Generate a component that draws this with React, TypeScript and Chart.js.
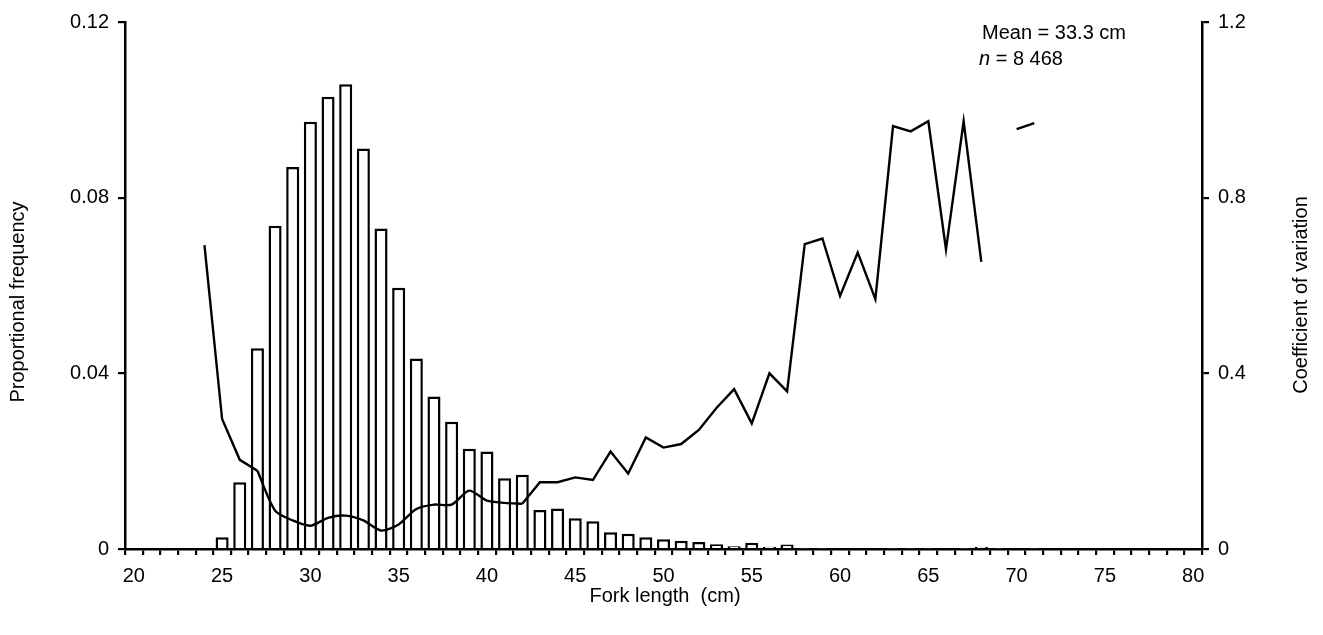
import React, { useEffect, useRef } from "react";
import { Chart, registerables } from "chart.js";

Chart.register(...registerables);

const forkLengths: number[] = [
  20, 21, 22, 23, 24, 25, 26, 27, 28, 29, 30, 31, 32, 33, 34, 35, 36, 37, 38, 39, 40,
  41, 42, 43, 44, 45, 46, 47, 48, 49, 50, 51, 52, 53, 54, 55, 56, 57, 58, 59, 60,
  61, 62, 63, 64, 65, 66, 67, 68, 69, 70, 71, 72, 73, 74, 75, 76, 77, 78, 79, 80,
];

const proportionalFrequency: (number | null)[] = [
  null, null, null, null, 0.0002, 0.0027, 0.0152, 0.0457, 0.0736, 0.087, 0.0973,
  0.103, 0.1058, 0.0912, 0.073, 0.0595, 0.0434, 0.0347, 0.029, 0.0228, 0.0222,
  0.0161, 0.0169, 0.0089, 0.0092, 0.007, 0.0063, 0.0038, 0.0035, 0.0027, 0.0022,
  0.0019, 0.0016, 0.0011, 0.0006, 0.0014, 0.0005, 0.001, 0.0001, 0.0001, 0.0002,
  0.0002, 0.0002, 0.0001, 0.0001, 0.0001, 0.0002, 0.0001, 0.0005, 0.0001, 0.0002,
  0.0001, null, null, null, null, null, null, null, null, null,
];

const coefficientOfVariation: (number | null)[] = [
  null, null, null, null, 0.692, 0.296, 0.203, 0.178, 0.0875, 0.065, 0.053,
  0.071, 0.076, 0.065, 0.042, 0.056, 0.091, 0.101, 0.101, 0.133, 0.11,
  0.105, 0.103, 0.152, 0.152, 0.163, 0.157, 0.222, 0.172, 0.254, 0.231,
  0.239, 0.271, 0.321, 0.364, 0.286, 0.4, 0.359, 0.694, 0.707, 0.576,
  0.675, 0.569, 0.963, 0.951, 0.974, 0.682, 0.974, 0.654, null, 0.956,
  0.97, null, null, null, null, null, null, null, null, null,
];

// fork-length range where the CV curve is drawn smoothed
const smoothFrom = 27;
const smoothUntil = 42;

const leftTicks: number[] = [0, 0.04, 0.08, 0.12];
const rightTicks: number[] = [0, 0.4, 0.8, 1.2];

const FONT = "'Liberation Sans', Arial, Helvetica, sans-serif";

const textPlugin = {
  id: "textPlugin",
  afterDraw(chart: any) {
    const ctx = chart.ctx;
    ctx.save();
    ctx.fillStyle = "#000";
    ctx.textBaseline = "alphabetic";
    ctx.textAlign = "left";
    ctx.font = `20px ${FONT}`;
    ctx.fillText("Mean = 33.3 cm", 982, 39);
    ctx.font = `italic 20px ${FONT}`;
    ctx.fillText("n", 979, 65);
    const nw = ctx.measureText("n").width;
    ctx.font = `20px ${FONT}`;
    ctx.fillText(" = 8 468", 979 + nw, 65);

    ctx.textAlign = "center";
    ctx.textBaseline = "middle";
    ctx.fillText("Fork length  (cm)", 665, 596);

    ctx.save();
    ctx.translate(18, 302);
    ctx.rotate(-Math.PI / 2);
    ctx.fillText("Proportional frequency", 0, 0);
    ctx.restore();

    ctx.save();
    ctx.translate(1301, 295);
    ctx.rotate(-Math.PI / 2);
    ctx.fillText("Coefficient of variation", 0, 0);
    ctx.restore();
    ctx.restore();
  },
};

export default function App() {
  const ref = useRef<HTMLCanvasElement | null>(null);

  useEffect(() => {
    if (!ref.current) return;
    Chart.defaults.font.family = FONT;
    Chart.defaults.color = "#000";
    const cvSmooth = coefficientOfVariation.map((v, i) =>
      forkLengths[i] >= smoothFrom && forkLengths[i] <= smoothUntil ? v : null
    );
    const cvSharp = coefficientOfVariation.map((v, i) =>
      forkLengths[i] <= smoothFrom || forkLengths[i] >= smoothUntil ? v : null
    );
    const lineCommon = {
      type: "line" as const,
      yAxisID: "y1",
      borderColor: "#000",
      borderWidth: 2.4,
      pointRadius: 0,
      spanGaps: false,
      order: 0,
    };
    const chart = new Chart(ref.current, {
      data: {
        labels: forkLengths.map(String),
        datasets: [
          { ...lineCommon, label: "CV", data: cvSmooth, tension: 0.25 },
          { ...lineCommon, label: "CV2", data: cvSharp, tension: 0 },
          {
            type: "bar",
            label: "Proportional frequency",
            data: proportionalFrequency,
            yAxisID: "y",
            backgroundColor: "#fff",
            borderColor: "#000",
            borderWidth: 2.5,
            barPercentage: 0.74,
            categoryPercentage: 1,
            order: 1,
          },
        ] as any,
      },
      options: {
        responsive: false,
        animation: false,
        layout: { padding: { top: 22, left: 0, right: 0, bottom: 0 } },
        plugins: { legend: { display: false }, tooltip: { enabled: false } },
        scales: {
          x: {
            type: "category",
            offset: true,
            grid: {
              offset: true,
              drawOnChartArea: false,
              drawTicks: true,
              tickLength: 6,
              color: "#000",
              lineWidth: 2.2,
            },
            border: { display: true, color: "#000", width: 2.5 },
            ticks: {
              autoSkip: false,
              maxRotation: 0,
              minRotation: 0,
              padding: 9,
              font: { size: 20 },
              color: "#000",
              callback: (_v: any, i: number) =>
                forkLengths[i] % 5 === 0 ? String(forkLengths[i]) : "",
            },
            afterFit: (s: any) => {
              s.height = 86;
            },
          },
          y: {
            position: "left",
            min: 0,
            max: 0.12,
            afterBuildTicks: (s: any) => {
              s.ticks = leftTicks.map((v) => ({ value: v }));
            },
            grid: {
              drawOnChartArea: false,
              drawTicks: true,
              tickLength: 7,
              color: "#000",
              lineWidth: 2.2,
            },
            border: { display: true, color: "#000", width: 2.5 },
            ticks: {
              padding: 9,
              font: { size: 20 },
              color: "#000",
              callback: (v: any) => (v === 0 ? "0" : Number(v).toFixed(2)),
            },
            afterFit: (s: any) => {
              s.width = 125;
            },
          },
          y1: {
            position: "right",
            min: 0,
            max: 1.2,
            afterBuildTicks: (s: any) => {
              s.ticks = rightTicks.map((v) => ({ value: v }));
            },
            grid: {
              drawOnChartArea: false,
              drawTicks: true,
              tickLength: 7,
              color: "#000",
              lineWidth: 2.2,
            },
            border: { display: true, color: "#000", width: 2.5 },
            ticks: {
              padding: 9,
              font: { size: 20 },
              color: "#000",
              callback: (v: any) => (v === 0 ? "0" : Number(v).toFixed(1)),
            },
            afterFit: (s: any) => {
              s.width = 121;
            },
          },
        },
      },
      plugins: [textPlugin],
    });
    return () => chart.destroy();
  }, []);

  return (
    <div style={{ position: "absolute", left: 0, top: 0, width: 1323, height: 635, background: "#fff" }}>
      <canvas ref={ref} width={1323} height={635} style={{ display: "block" }} />
    </div>
  );
}
